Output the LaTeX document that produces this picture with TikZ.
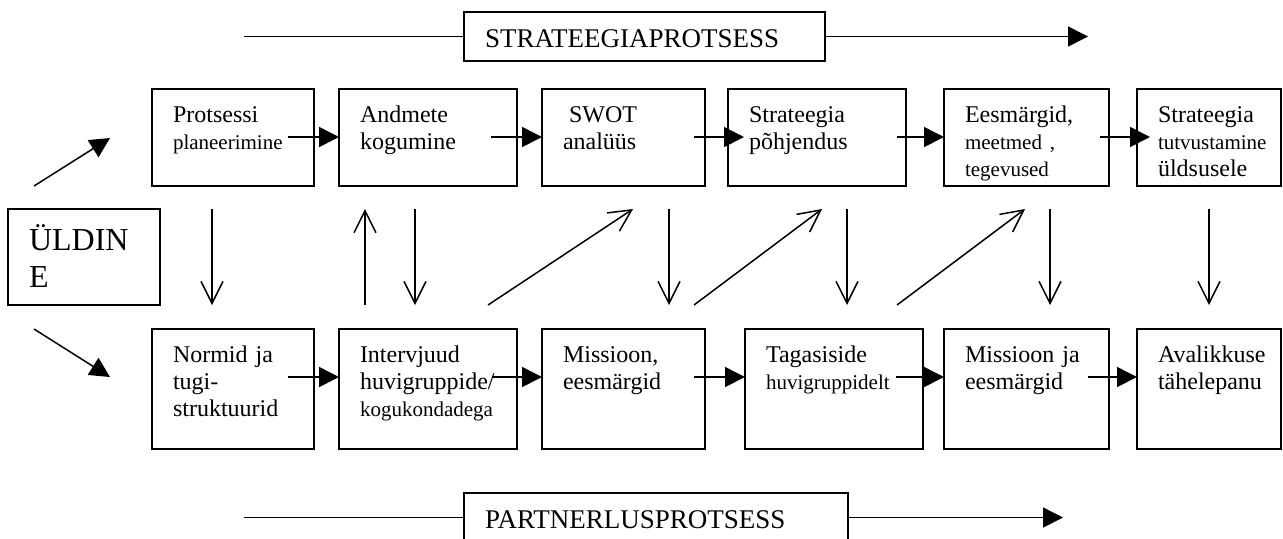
\documentclass[tikz,border=0pt]{standalone}
\usepackage{fontspec}
\setmainfont{Liberation Serif}
\usetikzlibrary{arrows.meta}
\newcommand{\boxtxt}{\fontsize{12}{13.5}\selectfont}
\newcommand{\boxsmall}{\fontsize{10.5}{13.5}\selectfont}
\newcommand{\bannertxt}{\fontsize{13.5}{16}\selectfont}
\newcommand{\generaltxt}{\fontsize{16}{18.5}\selectfont}
\tikzset{
  box/.style={draw, line width=0.75pt, outer sep=0pt, anchor=north west,
    inner xsep=10.5pt, inner ysep=0pt, align=left, font=\boxtxt, text height=16.5pt},
  toprow/.style={box, text depth=32pt},
  botrow/.style={box, text depth=43.5pt},
  banner/.style={draw, line width=0.75pt, outer sep=0pt, anchor=north west,
    inner xsep=10.5pt, inner ysep=0pt, align=left, font=\bannertxt,
    text height=17.5pt, text depth=7pt},
  flow/.style={line width=0.75pt, -{Triangle[length=10pt,width=10pt]}},
  barb/.style={line width=0.75pt, -{Straight Barb[length=11pt,width=11pt]}},
}
\begin{document}
\begin{tikzpicture}[x=0.5pt,y=-0.5pt]
\useasboundingbox (0,0) rectangle (1283,538);
% Process banners
\node[banner, text width=159.5pt] (strat) at (464,12) {STRATEEGIAPROTSESS};
\node[banner, text width=171pt] (partner) at (464,493) {PARTNERLUSPROTSESS};
\coordinate (sl) at (244,37);
\coordinate (sr) at (1088,37);
\coordinate (pl) at (244,517);
\coordinate (pr) at (1063,517);
\draw[line width=0.75pt] (sl |- strat.west) -- (strat.west);
\draw[flow] (strat.east) -- (strat.east -| sr);
\draw[line width=0.75pt] (pl |- partner.west) -- (partner.west);
\draw[flow] (partner.east) -- (partner.east -| pr);
% Strategy row
\node[toprow, text width=60pt] (p1) at (152,89) {Protsessi\\{\boxsmall planeerimine}};
\node[toprow, text width=68pt] (p2) at (339,89) {Andmete\\kogumine};
\node[toprow, text width=60.5pt] (p3) at (542,89) {\hspace*{3pt}SWOT\\analüüs};
\node[toprow, text width=68pt] (p4) at (728,89) {Strateegia\\põhjendus};
\node[toprow, text width=61.5pt] (p5) at (944,89) {Eesmärgid,\\{\boxsmall meetmed ,}\\{\boxsmall tegevused}};
\node[toprow, text width=51pt] (p6) at (1137,89) {Strateegia\\{\boxsmall tutvustamine}\\üldsusele};
% Partnership row
\node[botrow, text width=60pt] (n1) at (152,329) {Normid ja\\tugi-\\struktuurid};
\node[botrow, text width=68pt] (n2) at (339,329) {Intervjuud\\huvigruppide/\\{\boxsmall kogukondadega}};
\node[botrow, text width=60.5pt] (n3) at (542,329) {Missioon,\\eesmärgid};
\node[botrow, text width=68pt] (n4) at (745,329) {Tagasiside\\{\boxsmall huvigruppidelt}};
\node[botrow, text width=61.5pt] (n5) at (944,329) {Missioon ja\\eesmärgid};
\node[botrow, text width=51pt] (n6) at (1137,329) {Avalikkuse\\tähelepanu};
\node[draw, line width=0.75pt, outer sep=0pt, anchor=north west, inner xsep=10.5pt,
  inner ysep=0pt, align=left, font=\generaltxt, text width=55pt,
  text height=20.5pt, text depth=27.5pt] (gen) at (8,209) {ÜLDIN\\E};
% Arrows along the rows
\foreach \a/\b/\s/\t in {p1/p2/13/0, p2/p3/13/0, p3/p4/5.5/8, p4/p5/4.5/0, p5/p6/4.5/6.5,
  n1/n2/13/0, n2/n3/12.5/0, n3/n4/5.5/0, n4/n5/13.5/0, n5/n6/10.5/0}
  \draw[flow] ([xshift=-\s pt,yshift=-24pt]\a.north east) -- ([xshift=\t pt,yshift=-24pt]\b.north west);
% From the general box
\coordinate (g1) at (34,186);
\coordinate (g2) at (110,138);
\coordinate (g3) at (34,329);
\coordinate (g4) at (110,377);
\draw[flow] (g1) -- (g2);
\draw[flow] (g3) -- (g4);
% Between the rows
\foreach \n/\x in {a/212,b/365,c/415,d/669,e/847,f/1050,g/1209} {
  \coordinate (up\n) at (\x,209);
  \coordinate (lo\n) at (\x,305);
}
\foreach \n in {a,c,d,e,f,g}
  \draw[barb] (up\n) -- (lo\n);
\draw[barb] (lob) -- (upb);
\coordinate (s1) at (488,305);
\coordinate (t1) at (633,209);
\coordinate (s2) at (694,305);
\coordinate (t2) at (822,209);
\coordinate (s3) at (897,305);
\coordinate (t3) at (1025,209);
\draw[barb] (s1) -- (t1);
\draw[barb] (s2) -- (t2);
\draw[barb] (s3) -- (t3);
\end{tikzpicture}
\end{document}
